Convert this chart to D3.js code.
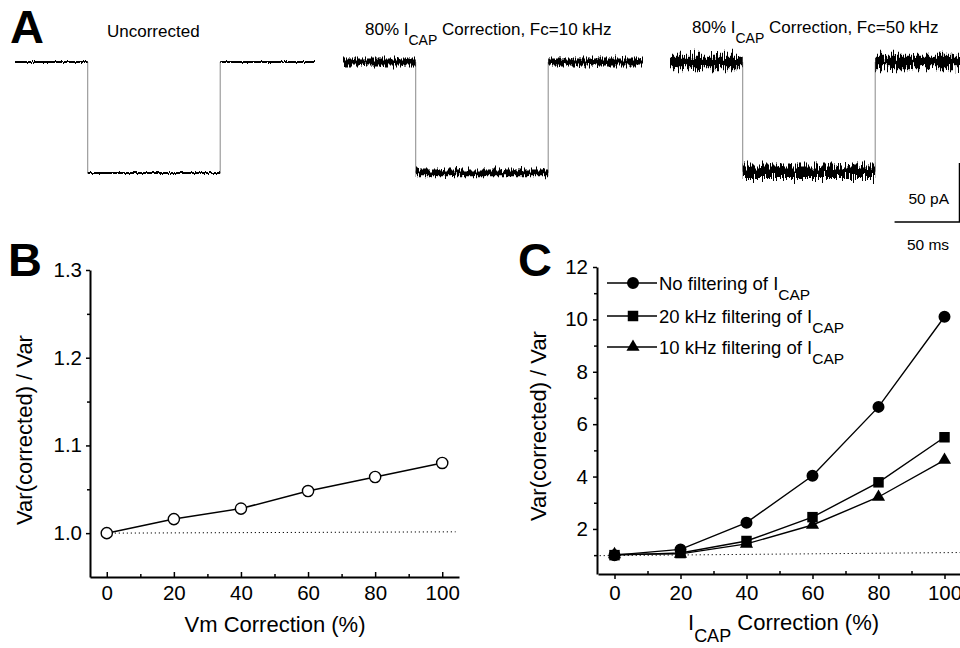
<!DOCTYPE html>
<html>
<head>
<meta charset="utf-8">
<script src="https://cdn.jsdelivr.net/npm/d3@7"></script>
<style>
  body { margin: 0; background: #fff; }
  svg { display: block; font-family: "Liberation Sans", Arial, sans-serif; }
  .axis path, .axis line { stroke: #000; }
  .axis text { font-size: 20.5px; fill: #000; }
</style>
</head>
<body>
<svg id="fig" width="960" height="648"></svg>
<script>
// ---- panel A: current traces (ms / pA) ----
const traceTime = [0, 56, 158, 231];          // start, step on, step off, end
const traceStep = [-94, -94, -93];             // pA during the step
const traceNoise = [2.5, 9, 16];               // peak-to-peak noise, pA
const traceTitles = [
  ["Uncorrected", "", ""],
  ["80% I", "CAP", " Correction, Fc=10 kHz"],
  ["80% I", "CAP", " Correction, Fc=50 kHz"]
];
const scaleBar = { pA: 50, ms: 50 };

// ---- panel B ----
const vmCorr = [0, 20, 40, 60, 80, 100];
const vmRatio = [1.0, 1.016, 1.028, 1.048, 1.064, 1.080];
const bTicksY = [1.0, 1.1, 1.2, 1.3];
const bTicksX = [0, 20, 40, 60, 80, 100];

// ---- panel C ----
const capCorr = [0, 20, 40, 60, 80, 100];
const noFilter = [1.0, 1.22, 2.24, 4.03, 6.66, 10.1];
const filt20 = [1.0, 1.08, 1.54, 2.45, 3.78, 5.5];
const filt10 = [1.03, 1.05, 1.43, 2.15, 3.22, 4.63];
const cSeriesNames = ["No filtering of I", "20 kHz filtering of I", "10 kHz filtering of I"];
const cTicksY = [2, 4, 6, 8, 10, 12];
const cTicksX = [0, 20, 40, 60, 80, 100];

const svg = d3.select("#fig");
const defs = svg.append("defs");

// panel letters
[["A", 10, 43], ["B", 8, 276], ["C", 518, 276]].forEach(([t, x, y]) => {
  svg.append("text").attr("x", x).attr("y", y)
    .attr("font-size", 47).attr("font-weight", "bold").text(t);
});

// ---------------- A ----------------
const traceX0 = [15, 343, 670];
const traceTitleX = [107, 365, 692];
const traceTitleY = [37, 35, 33];
const yI = d3.scaleLinear().domain([0, -100]).range([62, 180]);

traceNoise.forEach((n, i) => {
  const f = defs.append("filter").attr("id", "noise" + i)
    .attr("filterUnits", "userSpaceOnUse")
    .attr("x", 0).attr("y", 0).attr("width", 960).attr("height", 260);
  f.append("feTurbulence").attr("type", "fractalNoise")
    .attr("baseFrequency", "0.9 0.05").attr("numOctaves", 2)
    .attr("seed", 3 + i).attr("result", "t");
  f.append("feColorMatrix").attr("in", "t").attr("type", "matrix")
    .attr("values", "0 0 0 0 0.5  0 1 0 0 0  0 0 0 0 0  0 0 0 0 1")
    .attr("result", "m");
  f.append("feDisplacementMap").attr("in", "SourceGraphic").attr("in2", "m")
    .attr("scale", n * 1.18 * 1.1)
    .attr("xChannelSelector", "R").attr("yChannelSelector", "G");
});

traceStep.forEach((step, i) => {
  const xT = d3.scaleLinear().domain([0, 231]).range([traceX0[i], traceX0[i] + 300]);
  const g = svg.append("g");
  const lv = [0, step, 0];
  // vertical transitions
  g.append("line").attr("x1", xT(traceTime[1])).attr("x2", xT(traceTime[1]))
    .attr("y1", yI(0)).attr("y2", yI(step))
    .attr("stroke", "#888").attr("stroke-width", 1);
  g.append("line").attr("x1", xT(traceTime[2])).attr("x2", xT(traceTime[2]))
    .attr("y1", yI(step)).attr("y2", yI(0))
    .attr("stroke", "#888").attr("stroke-width", 1);
  // noisy flat segments
  const segs = g.append("g").attr("filter", "url(#noise" + i + ")");
  for (let k = 0; k < 3; k++) {
    segs.append("line")
      .attr("x1", xT(traceTime[k])).attr("x2", xT(traceTime[k + 1]))
      .attr("y1", yI(lv[k])).attr("y2", yI(lv[k]))
      .attr("stroke", "#000")
      .attr("stroke-width", Math.max(1.4, traceNoise[i] * 1.18 * 0.65));
  }
  const tt = svg.append("text").attr("x", traceTitleX[i]).attr("y", traceTitleY[i])
    .attr("font-size", 17);
  tt.append("tspan").text(traceTitles[i][0]);
  if (traceTitles[i][1]) {
    tt.append("tspan").attr("dy", 10).attr("font-size", 14).text(traceTitles[i][1]);
    tt.append("tspan").attr("dy", -10).text(traceTitles[i][2]);
  }
});

// scale bar
{
  const xT = d3.scaleLinear().domain([0, 231]).range([670, 970]);
  const barW = xT(scaleBar.ms) - xT(0);
  const barH = yI(-scaleBar.pA) - yI(0);
  const bx = 959.5, by = 222;
  svg.append("path")
    .attr("d", `M${bx},${by - barH}V${by}H${bx - barW}`)
    .attr("fill", "none").attr("stroke", "#000").attr("stroke-width", 1.5);
  svg.append("text").attr("x", 949).attr("y", 204).attr("text-anchor", "end")
    .attr("font-size", 15.5).text(scaleBar.pA + " pA");
  svg.append("text").attr("x", 928).attr("y", 250).attr("text-anchor", "middle")
    .attr("font-size", 15.5).text(scaleBar.ms + " ms");
}

// ---------------- B ----------------
const xB = d3.scaleLinear().domain([-5, 105]).range([90, 459]);
const yB = d3.scaleLinear().domain([0.95, 1.3]).range([577, 270]);
const gB = svg.append("g");

gB.append("g").attr("class", "axis").attr("transform", "translate(0,577)")
  .call(d3.axisBottom(xB).tickValues([10, 30, 50, 70, 90]).tickSize(-3).tickSizeOuter(0).tickFormat(""))
  .call(g => g.select(".domain").remove())
  .selectAll("line").attr("stroke-width", 1.5);
gB.append("g").attr("class", "axis").attr("transform", "translate(0,577)")
  .call(d3.axisBottom(xB).tickValues(bTicksX).tickSize(-5).tickSizeOuter(0).tickPadding(8.5))
  .call(g => g.select(".domain").attr("stroke-width", 2))
  .selectAll("line").attr("stroke-width", 1.5);
gB.append("g").attr("class", "axis").attr("transform", "translate(90,0)")
  .call(d3.axisLeft(yB).tickValues([1.05, 1.15, 1.25]).tickSize(3).tickSizeOuter(0).tickFormat(""))
  .call(g => g.select(".domain").remove())
  .selectAll("line").attr("stroke-width", 1.5);
gB.append("g").attr("class", "axis").attr("transform", "translate(90,0)")
  .call(d3.axisLeft(yB).tickValues(bTicksY).tickSize(4).tickSizeOuter(0).tickPadding(4).tickFormat(d3.format(".1f")))
  .call(g => g.select(".domain").attr("stroke-width", 2))
  .selectAll("line").attr("stroke-width", 1.5);

// reference line at 1.0
gB.append("line").attr("x1", xB(0)).attr("x2", xB(104))
  .attr("y1", yB(1.0)).attr("y2", yB(1.0015))
  .attr("stroke", "#000").attr("stroke-width", 1).attr("stroke-dasharray", "1.2,2.8");

gB.append("path").datum(vmCorr.map((c, i) => [c, vmRatio[i]]))
  .attr("d", d3.line().x(d => xB(d[0])).y(d => yB(d[1])))
  .attr("fill", "none").attr("stroke", "#000").attr("stroke-width", 1.5);
gB.selectAll("circle.pt").data(vmCorr).join("circle").attr("class", "pt")
  .attr("cx", d => xB(d)).attr("cy", (d, i) => yB(vmRatio[i])).attr("r", 5.6)
  .attr("fill", "#fff").attr("stroke", "#000").attr("stroke-width", 1.4);

gB.append("text").attr("transform", "translate(32,430) rotate(-90)")
  .attr("text-anchor", "middle").attr("font-size", 22).text("Var(corrected) / Var");
gB.append("text").attr("x", 275).attr("y", 632)
  .attr("text-anchor", "middle").attr("font-size", 22).text("Vm Correction (%)");

// ---------------- C ----------------
const xC = d3.scaleLinear().domain([-5, 105]).range([598, 961]);
const yC = d3.scaleLinear().domain([0.28, 12]).range([574, 267]);
const gC = svg.append("g");

gC.append("g").attr("class", "axis").attr("transform", "translate(0,574)")
  .call(d3.axisBottom(xC).tickValues([10, 30, 50, 70, 90]).tickSize(-3).tickSizeOuter(0).tickFormat(""))
  .call(g => g.select(".domain").remove())
  .selectAll("line").attr("stroke-width", 1.5);
gC.append("g").attr("class", "axis").attr("transform", "translate(0,574)")
  .call(d3.axisBottom(xC).tickValues(cTicksX).tickSize(5).tickSizeOuter(0).tickPadding(6.5))
  .call(g => g.select(".domain").attr("stroke-width", 2))
  .selectAll("line").attr("stroke-width", 1.5);
gC.append("g").attr("class", "axis").attr("transform", "translate(597,0)")
  .call(d3.axisLeft(yC).tickValues([1, 3, 5, 7, 9, 11]).tickSize(3).tickSizeOuter(0).tickFormat(""))
  .call(g => g.select(".domain").remove())
  .selectAll("line").attr("stroke-width", 1.5);
gC.append("g").attr("class", "axis").attr("transform", "translate(597,0)")
  .call(d3.axisLeft(yC).tickValues(cTicksY).tickSize(4).tickSizeOuter(0).tickPadding(5))
  .call(g => g.select(".domain").attr("stroke-width", 2))
  .selectAll("line").attr("stroke-width", 1.5);

// reference line near 1
gC.append("line").attr("x1", xC(-4.5)).attr("x2", xC(105))
  .attr("y1", yC(0.98)).attr("y2", yC(1.1))
  .attr("stroke", "#000").attr("stroke-width", 1).attr("stroke-dasharray", "1.2,2.8");

const cSeries = [noFilter, filt20, filt10];
const symbols = [d3.symbolCircle, d3.symbolSquare, d3.symbolTriangle];
const symSize = [113, 110, 75];
const lineC = d3.line().x(d => xC(d[0])).y(d => yC(d[1]));

cSeries.forEach((s, k) => {
  gC.append("path").datum(capCorr.map((c, i) => [c, s[i]]))
    .attr("d", lineC).attr("fill", "none").attr("stroke", "#000").attr("stroke-width", 1.4);
});
cSeries.forEach((s, k) => {
  gC.selectAll("path.m" + k).data(capCorr).join("path").attr("class", "m" + k)
    .attr("transform", (d, i) => `translate(${xC(d)},${yC(s[i])})`)
    .attr("d", d3.symbol(symbols[k], symSize[k]));
});

// legend
const legY = [283, 316, 347];
cSeriesNames.forEach((name, k) => {
  const lg = gC.append("g").attr("transform", `translate(0,${legY[k]})`);
  lg.append("line").attr("x1", 607).attr("x2", 657)
    .attr("stroke", "#000").attr("stroke-width", 1.4);
  lg.append("path").attr("transform", "translate(633,0)")
    .attr("d", d3.symbol(symbols[k], symSize[k])());
  const t = lg.append("text").attr("x", 659).attr("y", 6.5).attr("font-size", 18.5);
  t.append("tspan").text(name);
  t.append("tspan").attr("dy", 10).attr("font-size", 15.5).text("CAP");
});

gC.append("text").attr("transform", "translate(546,426) rotate(-90)")
  .attr("text-anchor", "middle").attr("font-size", 22).text("Var(corrected) / Var");
const xt = gC.append("text").attr("x", 688).attr("y", 630).attr("font-size", 22);
xt.append("tspan").text("I");
xt.append("tspan").attr("dy", 12).attr("font-size", 18).text("CAP");
xt.append("tspan").attr("dy", -12).text(" Correction (%)");
</script>
</body>
</html>
